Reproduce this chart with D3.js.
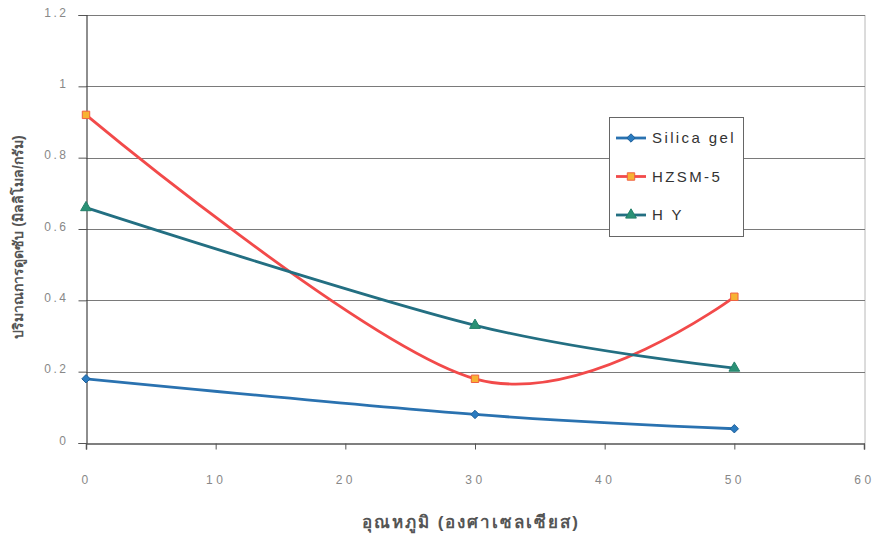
<!DOCTYPE html>
<html>
<head>
<meta charset="utf-8">
<script src="https://cdn.jsdelivr.net/npm/d3@7"></script>
<style>
  html, body { margin: 0; padding: 0; background: #fff; }
  svg { display: block; }
  text { font-family: "Liberation Sans", Arial, sans-serif; }
</style>
</head>
<body>
<svg id="chart" width="879" height="535"></svg>
<script>
// Temperature (°C) at which adsorption was measured
const temperatures = [0, 30, 50];
// Adsorption amount (mmol/g) for each adsorbent
const silicaGel = [0.18, 0.08, 0.04];
const hzsm5 = [0.92, 0.18, 0.41];
const hy = [0.66, 0.33, 0.21];
const seriesNames = ["Silica gel", "HZSM-5", "H Y"];
const xTicks = [0, 10, 20, 30, 40, 50, 60];
const yTicks = [0, 0.2, 0.4, 0.6, 0.8, 1, 1.2];
const xTitle = "อุณหภูมิ (องศาเซลเซียส)";
const yTitle = "ปริมาณการดูดซับ (มิลลิโมล/กรัม)";

const svg = d3.select("#chart");
const plotLeft = 86, plotRight = 864, plotTop = 15, plotBottom = 443;

const x = d3.scaleLinear().domain([0, 60]).range([plotLeft, plotRight]);
const y = d3.scaleLinear().domain([0, 1.2]).range([plotBottom, plotTop]);

// plot area right border
svg.append("line")
  .attr("x1", plotRight + 1).attr("x2", plotRight + 1)
  .attr("y1", plotTop).attr("y2", plotBottom)
  .attr("stroke", "#b8b8b8").attr("stroke-width", 1);

// horizontal gridlines
svg.append("g").selectAll("line").data(yTicks.filter(d => d > 0)).join("line")
  .attr("x1", plotLeft).attr("x2", plotRight + 1)
  .attr("y1", d => Math.round(y(d)) + 0.5).attr("y2", d => Math.round(y(d)) + 0.5)
  .attr("stroke", "#7a7a7a").attr("stroke-width", 1);

// y axis
const yAxis = d3.axisLeft(y).tickValues(yTicks).tickSize(8).tickPadding(10)
  .tickFormat(d => d === 0 || d === 1 ? String(d) : d3.format(".1f")(d));
const gy = svg.append("g").attr("transform", `translate(${plotLeft + 0.5},0)`).call(yAxis);
gy.select(".domain").attr("stroke", "#444").attr("stroke-width", 1.2);
gy.selectAll(".tick line").attr("stroke", "#555");
gy.selectAll(".tick text").attr("fill", "#888").attr("font-size", 12)
  .attr("letter-spacing", "2.5px").attr("dy", "0.1em");

// x axis
const xAxis = d3.axisBottom(x).tickValues(xTicks).tickSize(6).tickPadding(26)
  .tickFormat(d3.format("d"));
const gx = svg.append("g").attr("transform", `translate(0,${plotBottom + 0.5})`).call(xAxis);
gx.select(".domain").attr("stroke", "#555").attr("stroke-width", 1.5);
gx.selectAll(".tick line").attr("stroke", "#555");
gx.selectAll(".tick text").attr("fill", "#888").attr("font-size", 12)
  .attr("letter-spacing", "3.5px");

// axis titles
svg.append("text")
  .attr("x", 471).attr("y", 528)
  .attr("text-anchor", "middle")
  .attr("font-size", 17).attr("fill", "#555").attr("font-weight", "bold")
  .attr("letter-spacing", "2px")
  .text(xTitle);
svg.append("text")
  .attr("transform", "translate(23,237) rotate(-90)")
  .attr("text-anchor", "middle")
  .attr("font-size", 14).attr("fill", "#555").attr("font-weight", "bold")
  .text(yTitle);

const series = [
  { name: seriesNames[0], values: silicaGel, line: "#2a72b0", fill: "#2a7bc0", stroke: "#1f5f99", shape: d3.symbolDiamond2, size: 45 },
  { name: seriesNames[1], values: hzsm5, line: "#f24a4a", fill: "#f7b233", stroke: "#f06040", shape: d3.symbolSquare, size: 55 },
  { name: seriesNames[2], values: hy, line: "#236f82", fill: "#2a9175", stroke: "#23806a", shape: d3.symbolTriangle, size: 50 }
];

const line = d3.line()
  .x((d, i) => x(temperatures[i]))
  .y(d => y(d))
  .curve(d3.curveCardinal.tension(0));

const gSeries = svg.append("g");
series.forEach(s => {
  gSeries.append("path")
    .attr("d", line(s.values))
    .attr("fill", "none")
    .attr("stroke", s.line)
    .attr("stroke-width", 2.8);
});
series.forEach(s => {
  gSeries.append("g").selectAll("path").data(s.values).join("path")
    .attr("transform", (d, i) => `translate(${x(temperatures[i])},${y(d)})`)
    .attr("d", d3.symbol().type(s.shape).size(s.size))
    .attr("fill", s.fill)
    .attr("stroke", s.stroke)
    .attr("stroke-width", 1);
});

// legend
const lg = svg.append("g").attr("transform", "translate(609,117)");
lg.append("rect")
  .attr("x", 0.5).attr("y", 0.5).attr("width", 134).attr("height", 119)
  .attr("fill", "#fff").attr("stroke", "#666").attr("stroke-width", 1);
series.forEach((s, i) => {
  const cy = 21 + i * 38.5;
  lg.append("line")
    .attr("x1", 7).attr("x2", 37).attr("y1", cy).attr("y2", cy)
    .attr("stroke", s.line).attr("stroke-width", 2.8);
  lg.append("path")
    .attr("transform", `translate(22,${cy})`)
    .attr("d", d3.symbol().type(s.shape).size(s.size))
    .attr("fill", s.fill).attr("stroke", s.stroke).attr("stroke-width", 1);
  lg.append("text")
    .attr("x", 43).attr("y", cy).attr("dy", "0.36em")
    .attr("font-size", 15).attr("fill", "#333")
    .attr("letter-spacing", "2.4px")
    .text(s.name);
});
</script>
</body>
</html>
